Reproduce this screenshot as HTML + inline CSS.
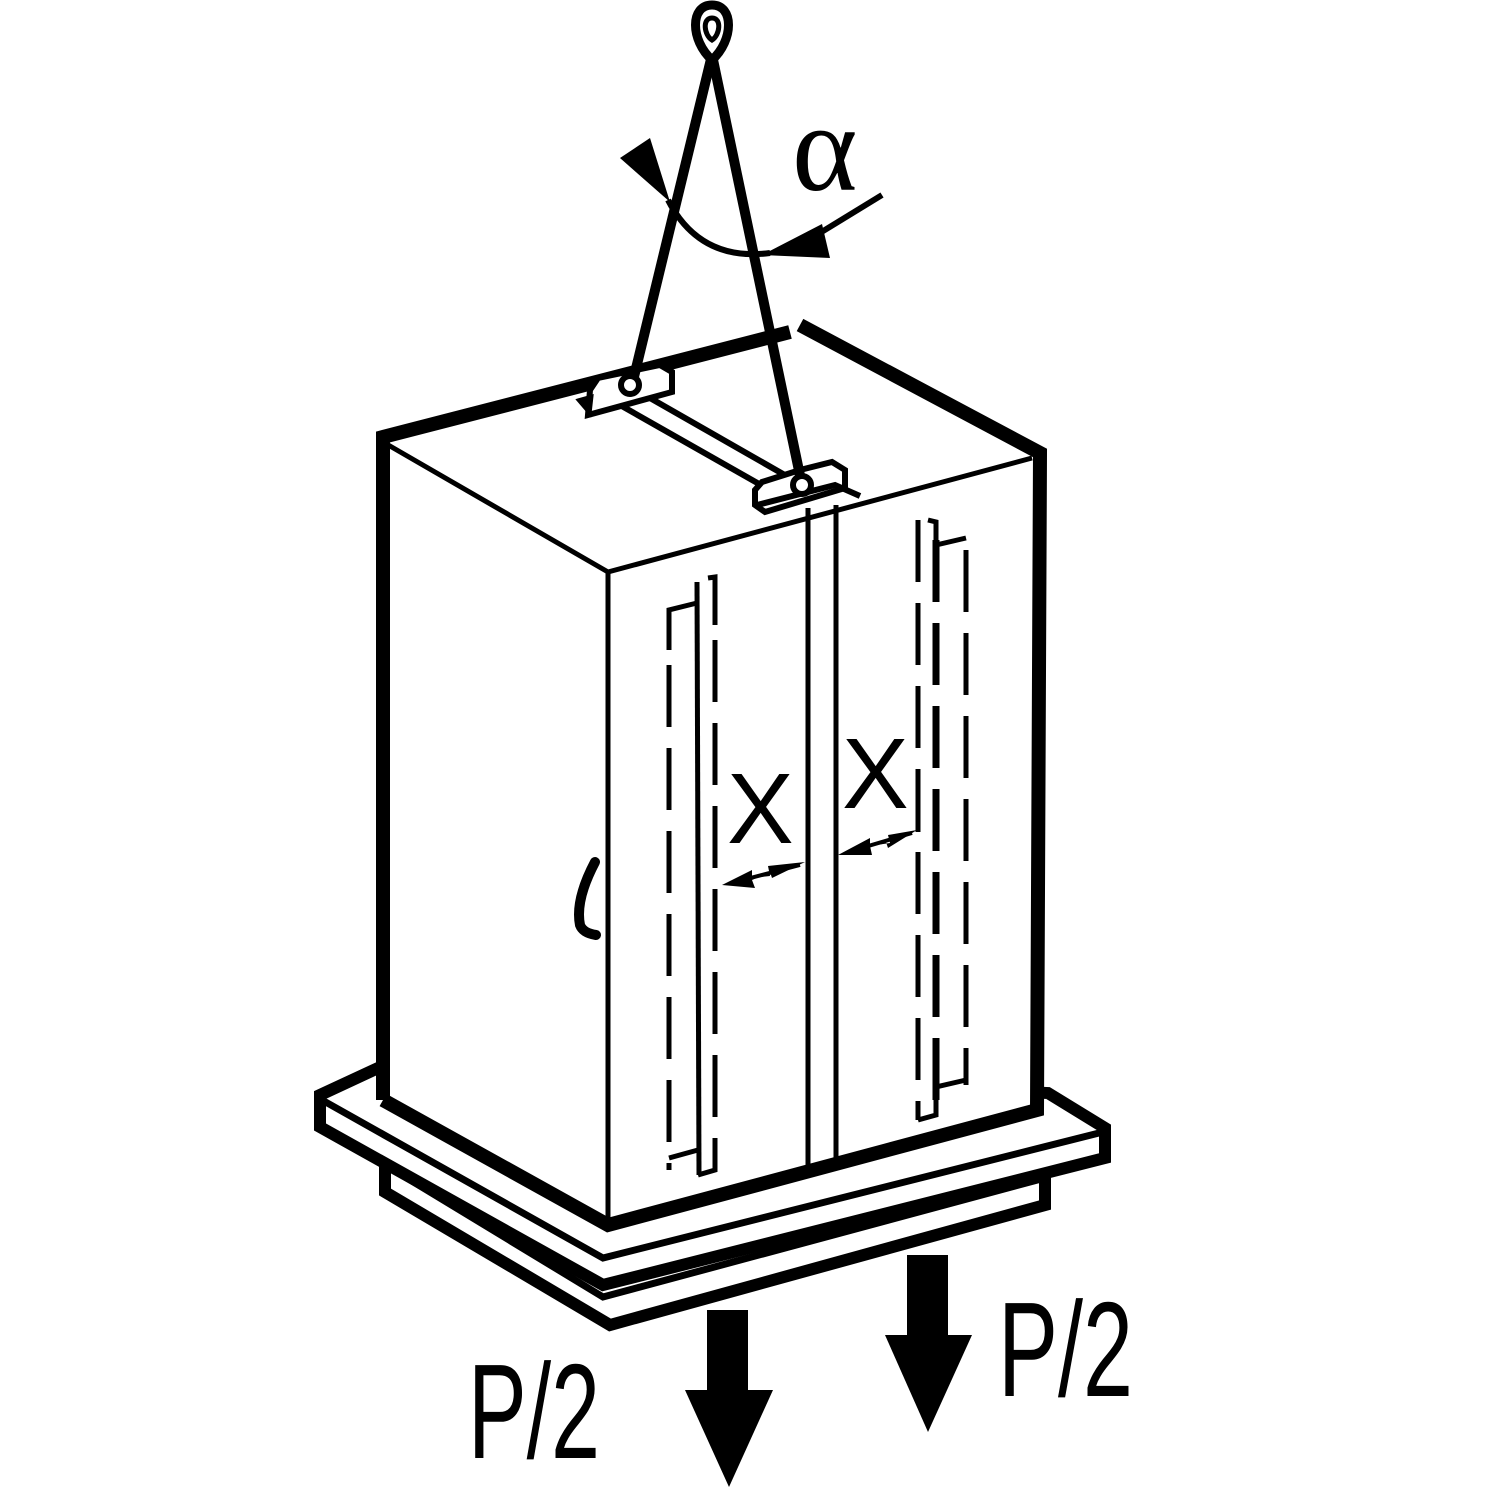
<!DOCTYPE html>
<html><head><style>html,body{margin:0;padding:0;background:#fff}svg{display:block}</style></head><body>
<svg width="1500" height="1500" viewBox="0 0 1500 1500" xmlns="http://www.w3.org/2000/svg">
<g fill="none" stroke="#000" stroke-linejoin="miter">
<!-- lower plate -->
<polygon points="385,1160 385,1192 610,1325 1045,1205 1045,1162 598,1282" fill="#fff" stroke-width="12"/>
<polyline points="397,1172 603,1297 1045,1178" stroke-width="7"/>
<!-- upper plate -->
<polygon points="320,1095 378,1068 1048,1093 1105,1128 1105,1158 603,1285 320,1127" fill="#fff" stroke-width="12"/>
<polyline points="322,1100 603,1258 1103,1132" stroke-width="7"/>
<!-- cabinet -->
<polygon points="383,437 795,330 1038,455 1037,1110 608,1225 383,1100" fill="#fff" stroke="none"/>
<polyline points="383,1100 383,437 790,332" stroke-width="14"/>
<polyline points="800,325 1040,453 1037,1110 608,1225 383,1100" stroke-width="14"/>
<polyline points="383,442 608,572 1032,458" stroke-width="5"/>
<line x1="608" y1="572" x2="608" y2="1225" stroke-width="5"/>
<!-- top bar -->
<line x1="620" y1="405" x2="775" y2="493" stroke-width="6"/>
<line x1="650" y1="398" x2="790" y2="478" stroke-width="6"/>
<polygon points="590,390 598,378 660,365 672,372 672,392 588,415" fill="#fff" stroke-width="6"/>
<polygon points="578,400 592,396 590,414" fill="#000" stroke-width="3"/>
<polygon points="762,482 800,470 832,462 845,470 845,488 765,512 755,505 755,490" fill="#fff" stroke-width="6"/>
<polyline points="757,505 835,485 860,496" stroke-width="6"/>
<!-- center strip -->
<line x1="808" y1="508" x2="808" y2="1172" stroke-width="5"/>
<line x1="836" y1="505" x2="836" y2="1165" stroke-width="5"/>
<!-- left door -->
<polyline points="669,650 669,610 697,603" stroke-width="5"/>
<line x1="669" y1="665" x2="669" y2="1170" stroke-width="5" stroke-dasharray="62 21"/>
<line x1="669" y1="1158" x2="698" y2="1150" stroke-width="5"/>
<line x1="697" y1="582" x2="699" y2="1175" stroke-width="5"/>
<polyline points="708,578 715,577 715,625" stroke-width="5"/>
<line x1="715" y1="640" x2="715" y2="1150" stroke-width="5" stroke-dasharray="62 21"/>
<polyline points="715,1150 715,1170 698,1175" stroke-width="5"/>
<!-- right door -->
<polyline points="928,520 936,522 936,545 966,538" stroke-width="5"/>
<line x1="918" y1="520" x2="918" y2="1120" stroke-width="5" stroke-dasharray="62 21"/>
<line x1="936" y1="540" x2="936" y2="1100" stroke-width="7" stroke-dasharray="62 21"/>
<line x1="966" y1="550" x2="966" y2="1085" stroke-width="5" stroke-dasharray="62 21"/>
<polyline points="966,1080 936,1087 936,1115 918,1120" stroke-width="5"/>
<line x1="918" y1="795" x2="918" y2="832" stroke-width="5"/>
<!-- handle -->
<path d="M595,862 Q575,900 580,925 Q583,933 596,935" stroke-width="10" stroke-linecap="round"/>
<!-- dimension arrows -->
<line x1="735" y1="882" x2="800" y2="865" stroke-width="4"/>
<line x1="848" y1="852" x2="912" y2="833" stroke-width="4"/>
<!-- slings -->
<line x1="712" y1="55" x2="632" y2="385" stroke-width="10"/>
<line x1="712" y1="55" x2="802" y2="485" stroke-width="10"/>
<circle cx="630" cy="385" r="9" fill="#fff" stroke-width="6"/>
<circle cx="802" cy="485" r="9" fill="#fff" stroke-width="6"/>
<path d="M712,60 C690,40 690,5 712,5 C734,5 734,40 712,60 Z" fill="#fff" stroke-width="9"/>
<path d="M712,40 C704,35 702,18 712,18 C722,18 720,35 712,40 Z" stroke-width="5"/>
<!-- angle arc -->
<path d="M668,200 Q700,262 770,253" stroke-width="6"/>
<line x1="815" y1="236" x2="882" y2="195" stroke-width="6"/>
</g>
<g fill="#000">
<polygon points="620,158 650,138 670,202"/>
<polygon points="762,255 822,224 830,258"/>
<polygon points="722,885 752,870 752,878 770,876 768,866 805,862 772,878 770,872 752,880 755,888"/>
<polygon points="838,855 870,838 870,846 890,843 888,835 917,830 888,848 886,842 870,846 872,855"/>
<rect x="707" y="1310" width="41" height="82"/>
<polygon points="685,1390 773,1390 729,1487"/>
<rect x="907" y="1255" width="41" height="82"/>
<polygon points="885,1335 972,1335 928,1432"/>
</g>
<g font-family="Liberation Sans, sans-serif" fill="#000">
<text x="727" y="843" font-size="100">X</text>
<text x="842" y="808" font-size="100">X</text>
<text x="468" y="1458" font-size="135" textLength="132" lengthAdjust="spacingAndGlyphs">P/2</text>
<text x="998" y="1396" font-size="135" textLength="135" lengthAdjust="spacingAndGlyphs">P/2</text>
</g>
<text x="792" y="190" font-family="Liberation Serif, serif" font-size="125" fill="#000">α</text>
</svg>
</body></html>
